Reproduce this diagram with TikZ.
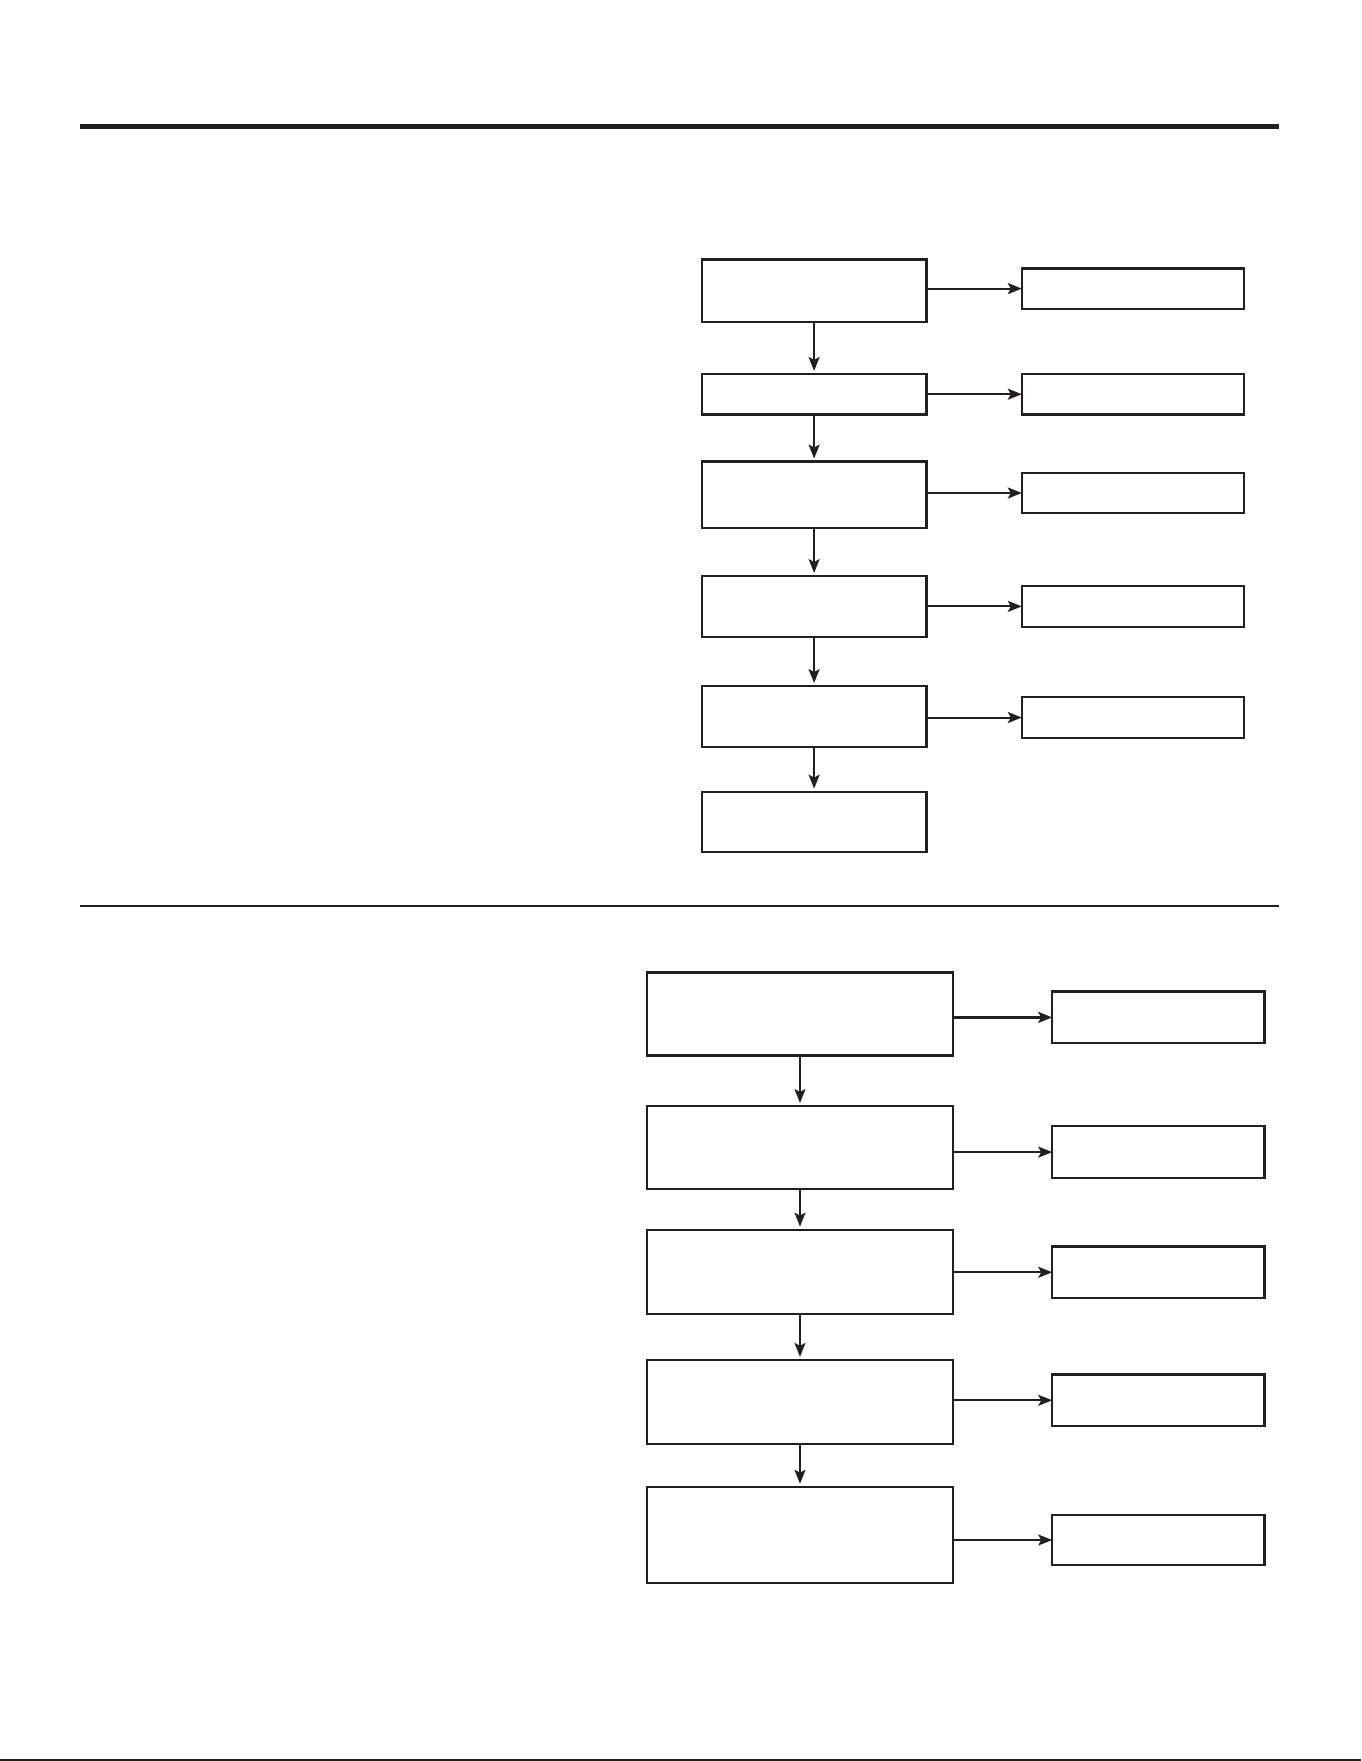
\documentclass[tikz,border=0pt]{standalone}
\usetikzlibrary{arrows.meta}
\definecolor{ink}{HTML}{231F20}
\begin{document}
\begin{tikzpicture}[x=1pt,y=-1pt,
  box/.style={draw=ink, line width=2.2pt, rectangle, inner sep=0pt, outer sep=0pt},
  arr/.style={draw=ink, line width=2pt, -{Stealth[length=14pt,width=11pt,inset=3pt]}},
  varr/.style={arr, shorten >=3pt}]
\fill[white] (0,0) rectangle (1361,1761);
\useasboundingbox (0,0) rectangle (1361,1761);
% rules
\draw[ink, line width=5pt] (80,126) coordinate (t1) -- (1279,126) coordinate (t2);
\draw[ink, line width=2.2pt] (80,906) coordinate (m1) -- (1279,906) coordinate (m2);
\draw[ink, line width=2pt] (0,1760) coordinate (e1) -- (1361,1760) coordinate (e2);
% top flowchart
\node[box, minimum width=224.6pt, minimum height=62.9pt] (b1) at (814.1,290.9) {};
\node[box, minimum width=224.6pt, minimum height=40.5pt] (b2) at (814.1,394.2) {};
\node[box, minimum width=224.6pt, minimum height=66.3pt] (b3) at (814.1,494.7) {};
\node[box, minimum width=224.6pt, minimum height=60.7pt] (b4) at (814.1,606.4) {};
\node[box, minimum width=224.6pt, minimum height=60.6pt] (b5) at (814.1,716.4) {};
\node[box, minimum width=224.6pt, minimum height=60.7pt] (b6) at (814.1,822) {};
\node[box, minimum width=222.4pt, minimum height=40.4pt] (r1) at (1133,288.6) {};
\node[box, minimum width=222.4pt, minimum height=40.5pt] (r2) at (1133,394.2) {};
\node[box, minimum width=222.4pt, minimum height=40.5pt] (r3) at (1133,493) {};
\node[box, minimum width=222.4pt, minimum height=40.4pt] (r4) at (1133,606.4) {};
\node[box, minimum width=222.4pt, minimum height=40.4pt] (r5) at (1133,717.5) {};
\draw[varr] (b1.south) -- (b2.north);
\draw[varr] (b2.south) -- (b3.north);
\draw[varr] (b3.south) -- (b4.north);
\draw[varr] (b4.south) -- (b5.north);
\draw[varr] (b5.south) -- (b6.north);
\draw[arr] (b1.east |- r1) -- (r1.west);
\draw[arr] (b2.east |- r2) -- (r2.west);
\draw[arr] (b3.east |- r3) -- (r3.west);
\draw[arr] (b4.east |- r4) -- (r4.west);
\draw[arr] (b5.east |- r5) -- (r5.west);
% bottom flowchart
\node[box, minimum width=306.5pt, minimum height=83.1pt] (l1) at (800,1014) {};
\node[box, minimum width=306.5pt, minimum height=83.2pt] (l2) at (800,1147.6) {};
\node[box, minimum width=306.5pt, minimum height=84.2pt] (l3) at (800,1271.7) {};
\node[box, minimum width=306.5pt, minimum height=84.3pt] (l4) at (800,1402) {};
\node[box, minimum width=306.5pt, minimum height=96.6pt] (l5) at (800,1535) {};
\node[box, minimum width=212.2pt, minimum height=51.7pt] (s1) at (1158.3,1017.4) {};
\node[box, minimum width=212.2pt, minimum height=51.6pt] (s2) at (1158.3,1152.1) {};
\node[box, minimum width=212.2pt, minimum height=51.7pt] (s3) at (1158.3,1272.3) {};
\node[box, minimum width=212.2pt, minimum height=51.7pt] (s4) at (1158.3,1400.3) {};
\node[box, minimum width=212.2pt, minimum height=50.5pt] (s5) at (1158.3,1540) {};
\draw[varr] (l1.south) -- (l2.north);
\draw[varr] (l2.south) -- (l3.north);
\draw[varr] (l3.south) -- (l4.north);
\draw[varr] (l4.south) -- (l5.north);
\draw[arr, line width=3.5pt] (l1.east |- s1) -- (s1.west);
\draw[arr] (l2.east |- s2) -- (s2.west);
\draw[arr] (l3.east |- s3) -- (s3.west);
\draw[arr] (l4.east |- s4) -- (s4.west);
\draw[arr] (l5.east |- s5) -- (s5.west);
\end{tikzpicture}
\end{document}
